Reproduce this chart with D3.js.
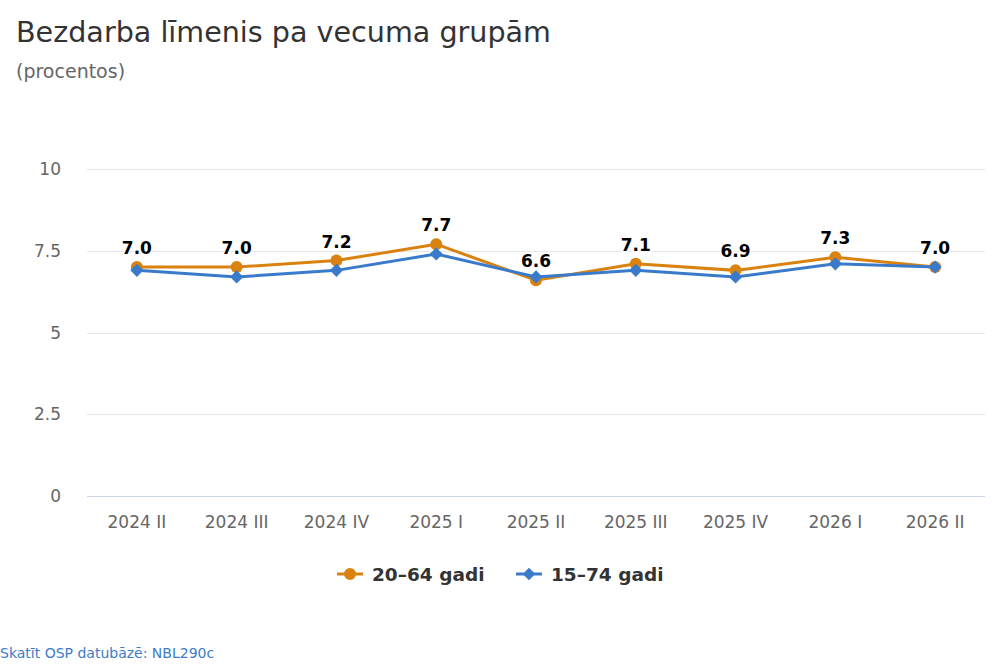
<!DOCTYPE html>
<html lang="en">
<meta charset="utf-8">
<head>
	<title>Bezdarba līmenis pa vecuma grupām</title>
	<script src="https://d3js.org/d3.v7.min.js"></script>
</head>

<style type="text/css">
	body { margin: 0; background: white; }
	text { font-family: 'DejaVu Sans', sans-serif; }
	.chartTitle { font-size: 28.6px; fill: #333333; }
	.subTitle { font-size: 19px; fill: #666666; }
	.tickLabel { font-size: 17px; fill: #666666; }
	.dataLabel { font-size: 17px; font-weight: bold; fill: #000000; stroke: white; stroke-width: 3px; paint-order: stroke; stroke-linejoin: round; }
	.legendText { font-size: 18.5px; font-weight: bold; fill: #333333; }
	.source { font-size: 14px; fill: #3d7cc9; }
</style>

<body>
<script type="text/javascript">

	// data
	var quarters = ["2024 II", "2024 III", "2024 IV", "2025 I", "2025 II", "2025 III", "2025 IV", "2026 I", "2026 II"];
	var age2064 = [7.0, 7.0, 7.2, 7.7, 6.6, 7.1, 6.9, 7.3, 7.0];
	var age1574 = [6.9, 6.7, 6.9, 7.4, 6.7, 6.9, 6.7, 7.1, 7.0];
	var yTicks = [0, 2.5, 5, 7.5, 10];
	var seriesNames = ["20–64 gadi", "15–74 gadi"];

	var canvasWidth = 1000,
		canvasHeight = 667,
		plotLeft = 87,
		plotRight = 985,
		plotTop = 169,
		plotBottom = 496;

	var orange = "#d9820f",
		blue = "#3a7acb";

	var svg = d3.select("body")
				.append("svg")
				.attr("width", canvasWidth)
				.attr("height", canvasHeight);

	svg.append("text")
	   .attr("class", "chartTitle")
	   .attr("x", 16)
	   .attr("y", 42)
	   .text("Bezdarba līmenis pa vecuma grupām");

	svg.append("text")
	   .attr("class", "subTitle")
	   .attr("x", 16)
	   .attr("y", 78)
	   .text("(procentos)");

	var x = d3.scalePoint()
			  .domain(quarters)
			  .range([plotLeft, plotRight])
			  .padding(0.5);

	var y = d3.scaleLinear()
			  .domain([0, 10])
			  .range([plotBottom, plotTop]);

	// gridlines
	svg.append("g")
	   .selectAll("line")
	   .data(yTicks)
	   .enter()
	   .append("line")
	   .attr("x1", plotLeft)
	   .attr("x2", plotRight)
	   .attr("y1", function(d) { return Math.round(y(d)) + 0.5; })
	   .attr("y2", function(d) { return Math.round(y(d)) + 0.5; })
	   .attr("stroke-width", 1)
	   .attr("stroke", function(d) { return d == 0 ? "#ccd6eb" : "#e6e6e6"; });

	// y labels
	svg.selectAll(".yLabel")
	   .data(yTicks)
	   .enter()
	   .append("text")
	   .attr("class", "tickLabel")
	   .attr("text-anchor", "end")
	   .attr("x", 61)
	   .attr("y", function(d) { return y(d) + 6; })
	   .text(function(d) { return d; });

	// x labels
	svg.selectAll(".xLabel")
	   .data(quarters)
	   .enter()
	   .append("text")
	   .attr("class", "tickLabel")
	   .attr("text-anchor", "middle")
	   .attr("x", function(d) { return x(d); })
	   .attr("y", 528)
	   .text(function(d) { return d; });

	var line = d3.line()
				 .x(function(d, i) { return x(quarters[i]); })
				 .y(function(d) { return y(d); });

	// 20-64 line
	svg.append("path")
	   .datum(age2064)
	   .attr("fill", "none")
	   .attr("stroke", orange)
	   .attr("stroke-width", 3)
	   .attr("d", line);

	svg.selectAll(".dotOrange")
	   .data(age2064)
	   .enter()
	   .append("circle")
	   .attr("cx", function(d, i) { return x(quarters[i]); })
	   .attr("cy", function(d) { return y(d); })
	   .attr("r", 6)
	   .attr("fill", orange);

	// 15-74 line
	svg.append("path")
	   .datum(age1574)
	   .attr("fill", "none")
	   .attr("stroke", blue)
	   .attr("stroke-width", 3)
	   .attr("d", line);

	var diamond = d3.symbol().type(d3.symbolDiamond2).size(110);

	svg.selectAll(".dotBlue")
	   .data(age1574)
	   .enter()
	   .append("path")
	   .attr("transform", function(d, i) { return "translate(" + x(quarters[i]) + "," + y(d) + ")"; })
	   .attr("d", diamond)
	   .attr("fill", blue);

	// labels for 20-64
	svg.selectAll(".dataLabel")
	   .data(age2064)
	   .enter()
	   .append("text")
	   .attr("class", "dataLabel")
	   .attr("text-anchor", "middle")
	   .attr("x", function(d, i) { return x(quarters[i]); })
	   .attr("y", function(d) { return y(d) - 13; })
	   .text(function(d) { return d.toFixed(1); });

	// legend
	var legendItems = [
		{ name: seriesNames[0], color: orange, shape: "circle", x: 337 },
		{ name: seriesNames[1], color: blue, shape: "diamond", x: 516 }
	];

	var legend = svg.selectAll(".legend")
					.data(legendItems)
					.enter()
					.append("g")
					.attr("transform", function(d) { return "translate(" + d.x + ",574)"; });

	legend.append("line")
		  .attr("x1", 0)
		  .attr("x2", 26)
		  .attr("y1", 0)
		  .attr("y2", 0)
		  .attr("stroke", function(d) { return d.color; })
		  .attr("stroke-width", 3);

	legend.append("path")
		  .attr("transform", "translate(13,0)")
		  .attr("d", function(d) {
		  	return d.shape == "circle"
		  		? d3.symbol().type(d3.symbolCircle).size(113)()
		  		: d3.symbol().type(d3.symbolDiamond2).size(100)();
		  })
		  .attr("fill", function(d) { return d.color; });

	legend.append("text")
		  .attr("class", "legendText")
		  .attr("x", 35)
		  .attr("y", 7)
		  .text(function(d) { return d.name; });

	// source link
	svg.append("text")
	   .attr("class", "source")
	   .attr("x", 0)
	   .attr("y", 658)
	   .text("Skatīt OSP datubāzē: NBL290c");

</script>
</body>
</html>
